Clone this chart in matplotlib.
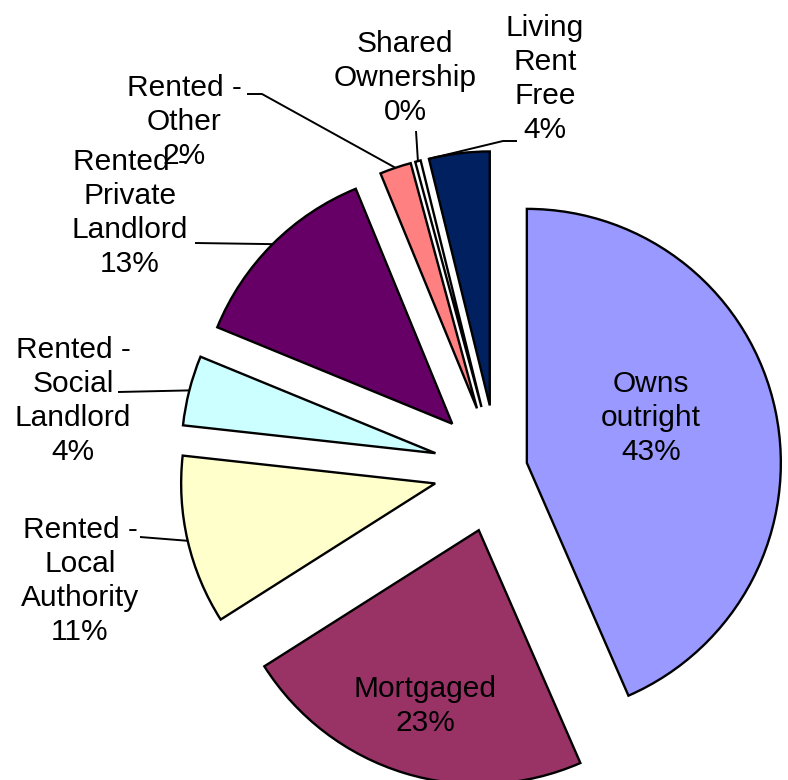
import matplotlib
matplotlib.use('Agg')
import matplotlib.pyplot as plt
import numpy as np

# データ
categories = ["Owns\noutright", "Mortgaged", "Rented -\nLocal\nAuthority",
              "Rented -\nSocial\nLandlord", "Rented -\nPrivate\nLandlord",
              "Rented -\nOther", "Shared\nOwnership", "Living\nRent\nFree"]
values = [43.45, 22.55, 10.75, 4.45, 12.6, 2.0, 0.35, 3.85]
colors = ["#9999FF", "#993366", "#FFFFCC", "#CCFFFF", "#660066",
          "#FF8080", "#FFFFFF", "#002060"]
explode = [0.118, 0.252, 0.252, 0.252, 0.252, 0.252, 0.252, 0.252]

# 画像上の配置 (ピクセル, 左上原点)
W, H = 788, 780
CX, CY = 497.5, 469.0   # 円の中心
RPX = 254.0             # 半径

def px(x, y):
    '''
    画像ピクセル座標をデータ座標に変換
    '''
    return (x - CX) / RPX, (CY - y) / RPX

# ラベル位置と引き出し線の始点 (None は円の中に表示)
label_pos = [(651, 418), (425, 706), (80, 581), (73, 401), (130, 213),
             (184, 122), (405, 78), (545, 79)]
leader_pts = [None, None, [(140, 537)], [(118, 392)], [(195, 243)],
              [(247, 94), (262, 94)], [(416, 131)], [(517, 141), (503, 141)]]
# 引き出し線が扇形のどこを指すか (0=theta1, 1=theta2)
leader_frac = [0.5, 0.5, 0.5, 0.5, 0.5, 0.5, 0.5, 1.0]

plt.rcParams['font.family'] = ['Liberation Sans', 'DejaVu Sans']

fig = plt.figure(figsize=(W / 100, H / 100), dpi=100)
ax = fig.add_axes([0, 0, 1, 1])

wedges, _ = ax.pie(values, colors=colors, explode=explode, startangle=90,
                   counterclock=False, radius=1.0, center=(0, 0),
                   wedgeprops=dict(edgecolor='black', linewidth=1.7))

ax.set_aspect('auto')
x0, y0 = px(0, H)
x1, y1 = px(W, 0)
ax.set_xlim(x0, x1)
ax.set_ylim(y0, y1)
ax.axis('off')

for i, w in enumerate(wedges):
    pct = f"{round(values[i] / sum(values) * 100)}%"
    tx, ty = px(*label_pos[i])
    ax.text(tx, ty, f"{categories[i]}\n{pct}", ha='center', va='center',
            multialignment='center', fontsize=21.5, color='black',
            linespacing=1.28)

    if leader_pts[i] is not None:
        t1, t2 = w.theta1, w.theta2
        ang = np.deg2rad(t1 + (t2 - t1) * leader_frac[i])
        cx, cy = w.center
        ex, ey = cx + w.r * np.cos(ang), cy + w.r * np.sin(ang)
        pts = [px(*p) for p in leader_pts[i]] + [(ex, ey)]
        xs, ys = zip(*pts)
        ax.plot(xs, ys, color='black', linewidth=1.4, solid_capstyle='butt')

fig.savefig("out.png", dpi=100)
